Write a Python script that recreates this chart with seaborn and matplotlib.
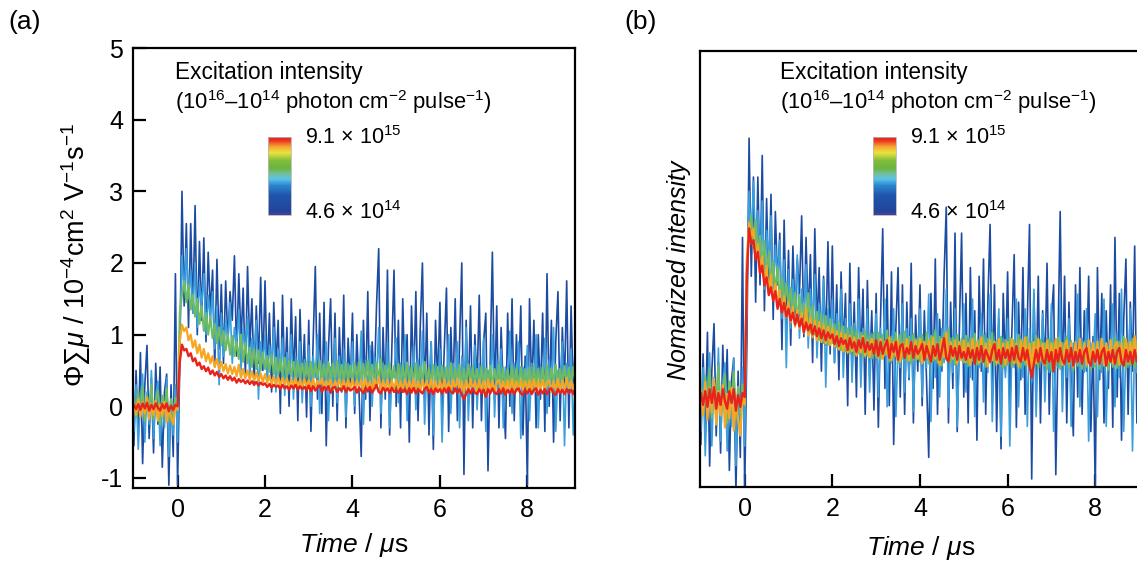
import numpy as np
import pandas as pd
import matplotlib
matplotlib.use("Agg")
import matplotlib.pyplot as plt
import seaborn as sns
from matplotlib.colors import LinearSegmentedColormap, Normalize
from matplotlib.cm import ScalarMappable

# ---------------- data (panel a units) ----------------
time_us = np.round(np.arange(-1.0, 9.1001, 0.05), 2)

dark_blue = [
    -0.55, 0.50, -0.35, 0.75, -0.80, 0.30, 0.85, -0.45, 0.40, -0.65, 0.60, -0.25, 0.55, -0.85, 0.20, 0.45, -1.10, 0.30, -0.70, 1.85,
    -1.10, 0.60, 3.00, 1.40, 2.55, 1.10, 2.55, 1.30, 2.80, 1.00, 2.30, 1.20, 2.35, 0.90, 2.15, 1.30, 1.90, 0.55, 2.05, 0.80,
    1.70, 0.60, 1.75, 0.90, 1.60, 1.20, 2.10, 0.70, 1.85, 0.90, 1.65, 0.40, 1.95, 0.80, 1.50, 0.30, 1.40, 0.60, 1.80, 0.50,
    1.75, 0.40, 1.30, 0.20, 1.45, 0.55, 1.20, -0.10, 1.55, 0.30, 1.10, 0.00, 1.50, 0.40, 1.25, -0.20, 1.35, 0.25, 1.00, -0.15,
    1.20, -0.35, 0.90, 1.95, 0.10, 1.30, -0.10, 1.45, -0.55, 0.80, 1.50, 0.00, 1.30, -0.20, 1.10, 0.20, 1.55, -0.30, 0.95, 0.30,
    1.30, -0.10, 1.00, 0.20, -0.70, 1.20, 0.10, 1.60, -0.20, 0.90, 0.30, 1.40, 2.20, -0.30, 1.10, 0.10, 1.90, -0.40, 0.80, 1.90,
    0.00, 1.20, -0.30, 1.50, 0.20, 1.00, -0.50, 1.40, 0.30, 1.60, -0.20, 1.10, 2.00, 0.10, 1.30, -0.40, 0.90, -0.60, 1.20, 0.30,
    1.45, -0.10, 0.80, 1.65, -0.35, 1.10, 0.20, 1.50, -0.20, 0.90, 2.00, -0.95, 1.20, 0.10, 1.40, -0.30, 1.00, 0.30, 1.55, -0.20,
    0.90, 1.30, -0.90, 0.60, 2.15, 0.10, 1.40, -0.30, 1.10, 0.20, -0.45, 1.30, 0.00, 1.50, -0.20, 1.00, 0.30, 1.40, -0.40, 0.70,
    -1.10, 1.50, 0.20, 1.20, -0.30, 1.00, 0.10, 1.30, -0.35, 1.85, 0.00, 1.20, -0.50, 0.90, 1.60, -0.20, 1.10, 0.30, 1.75, -0.30,
    1.40, 0.20, 0.90,
]

light_blue = [
    -0.35, 0.30, -0.60, 0.10, 0.45, -0.50, 0.20, -0.25, 0.50, -0.45, 0.15, 0.35, -0.55, 0.05, -0.30, 0.40, -0.70, 0.10, -0.40, 0.30,
    -0.50, 1.00, 2.10, 1.60, 2.20, 1.50, 1.90, 1.30, 2.00, 1.10, 1.70, 1.40, 1.85, 1.00, 1.55, 1.20, 1.60, 0.80, 1.40, 0.30,
    1.30, 0.70, 1.20, 0.90, 1.45, 0.60, 1.10, 0.85, 1.35, 0.50, 1.10, 0.75, 1.25, 0.40, 0.95, 0.70, 1.20, 0.10, 0.90, 0.60,
    1.00, 0.35, 0.85, 0.60, 1.10, 0.20, 0.80, 0.50, 0.95, 0.15, 0.75, 0.45, 1.00, 0.10, 0.70, 0.40, 0.90, 0.05, 0.65, 0.50,
    0.85, 0.00, 0.70, 0.40, 1.00, -0.10, 0.60, 0.35, 0.90, -0.20, 0.55, 0.30, 0.95, 0.05, 0.70, 0.20, 0.80, -0.15, 0.60, 0.40,
    0.90, 0.00, 0.55, 0.30, 1.05, -0.25, 0.65, 0.20, 0.85, 0.00, 0.70, 0.35, 1.10, -0.10, 0.60, 0.25, 0.90, -0.30, 0.50, 0.40,
    0.95, 0.05, 0.60, 0.20, 1.00, -0.20, 0.55, 0.30, 0.85, -0.05, 0.65, 0.25, 1.05, -0.25, 0.50, 0.35, 0.90, -0.40, 0.60, 0.20,
    0.80, -0.50, 0.55, 0.30, 1.00, -0.10, 0.60, 0.20, 0.90, -0.30, 0.70, 0.15, 1.10, -0.20, 0.55, 0.35, 0.85, -0.05, 0.60, 0.25,
    0.95, -0.35, 0.50, 0.30, 1.00, -0.15, 0.65, 0.20, 0.80, -0.30, 0.55, 0.35, 1.05, -0.10, 0.60, 0.25, 0.90, -0.45, 0.55, 0.30,
    0.85, -0.20, 0.60, 0.25, 1.00, -0.30, 0.55, 0.35, 0.95, -0.10, 0.65, 0.20, 1.10, -0.35, 0.50, 0.30, 0.90, -0.55, 0.60, 0.25,
    0.80, -0.40, 0.50,
]

green = [
    0.10, -0.15, 0.20, -0.12, 0.28, -0.20, 0.15, -0.08, 0.30, -0.18, 0.08, 0.22, -0.25, 0.15, -0.05, 0.25, -0.20, 0.10, -0.15, 0.12,
    -0.05, 1.30, 1.55, 1.75, 1.45, 1.70, 1.35, 1.55, 1.25, 1.50, 1.15, 1.40, 1.05, 1.30, 1.00, 1.25, 0.95, 1.15, 0.88, 1.10,
    0.85, 1.05, 0.78, 1.00, 0.72, 0.98, 0.70, 0.90, 0.66, 1.00, 0.62, 0.88, 0.60, 0.82, 0.55, 0.80, 0.52, 0.78, 0.50, 0.75,
    0.52, 0.70, 0.48, 0.72, 0.45, 0.68, 0.44, 0.66, 0.42, 0.68, 0.40, 0.64, 0.42, 0.62, 0.38, 0.63, 0.40, 0.60, 0.37, 0.62,
    0.38, 0.62, 0.36, 0.60, 0.40, 0.64, 0.34, 0.58, 0.38, 0.62, 0.33, 0.60, 0.37, 0.63, 0.35, 0.58, 0.32, 0.61, 0.36, 0.57,
    0.34, 0.60, 0.36, 0.62, 0.32, 0.59, 0.35, 0.64, 0.33, 0.58, 0.30, 0.61, 0.36, 0.66, 0.33, 0.57, 0.31, 0.60, 0.35, 0.56,
    0.33, 0.59, 0.30, 0.57, 0.35, 0.61, 0.31, 0.55, 0.34, 0.60, 0.29, 0.56, 0.33, 0.62, 0.30, 0.54, 0.32, 0.58, 0.28, 0.55,
    0.31, 0.57, 0.29, 0.55, 0.33, 0.60, 0.28, 0.54, 0.31, 0.58, 0.27, 0.53, 0.30, 0.59, 0.28, 0.55, 0.32, 0.52, 0.27, 0.56,
    0.25, 0.53, 0.30, 0.57, 0.27, 0.52, 0.31, 0.58, 0.28, 0.54, 0.26, 0.51, 0.30, 0.56, 0.27, 0.53, 0.29, 0.55, 0.26, 0.52,
    0.29, 0.54, 0.27, 0.56, 0.30, 0.52, 0.26, 0.55, 0.29, 0.57, 0.28, 0.53, 0.31, 0.58, 0.27, 0.52, 0.30, 0.56, 0.28, 0.54,
    0.30, 0.55, 0.32,
]

orange = [
    0.05, -0.12, 0.10, -0.15, 0.06, -0.10, 0.12, -0.18, 0.04, -0.12, 0.08, -0.20, 0.02, -0.14, 0.06, -0.22, -0.02, -0.15, -0.25, 0.00,
    -0.05, 0.90, 1.14, 1.05, 1.10, 0.92, 1.00, 0.82, 0.92, 0.74, 0.86, 0.68, 0.80, 0.63, 0.74, 0.60, 0.70, 0.55, 0.66, 0.52,
    0.62, 0.49, 0.59, 0.46, 0.57, 0.45, 0.55, 0.42, 0.58, 0.40, 0.52, 0.39, 0.50, 0.37, 0.49, 0.36, 0.47, 0.35, 0.46, 0.34,
    0.45, 0.33, 0.43, 0.31, 0.42, 0.30, 0.41, 0.29, 0.40, 0.30, 0.39, 0.27, 0.38, 0.29, 0.40, 0.27, 0.37, 0.26, 0.38, 0.28,
    0.37, 0.26, 0.38, 0.25, 0.36, 0.28, 0.39, 0.24, 0.36, 0.27, 0.37, 0.23, 0.35, 0.28, 0.38, 0.24, 0.36, 0.26, 0.37, 0.25,
    0.38, 0.22, 0.36, 0.26, 0.37, 0.23, 0.39, 0.25, 0.35, 0.21, 0.38, 0.26, 0.42, 0.23, 0.36, 0.25, 0.37, 0.22, 0.36, 0.24,
    0.37, 0.23, 0.35, 0.21, 0.38, 0.24, 0.36, 0.22, 0.39, 0.23, 0.35, 0.20, 0.37, 0.24, 0.36, 0.22, 0.38, 0.23, 0.35, 0.21,
    0.36, 0.23, 0.38, 0.22, 0.35, 0.20, 0.37, 0.24, 0.39, 0.21, 0.35, 0.19, 0.36, 0.22, 0.38, 0.24, 0.35, 0.21, 0.37, 0.23,
    0.35, 0.22, 0.38, 0.23, 0.36, 0.21, 0.34, 0.37, 0.22, 0.35, 0.20, 0.36, 0.23, 0.38, 0.22, 0.35, 0.21, 0.37, 0.23, 0.35,
    0.22, 0.36, 0.23, 0.38, 0.21, 0.35, 0.23, 0.37, 0.22, 0.34, 0.36, 0.21, 0.35, 0.23, 0.38, 0.22, 0.36, 0.24, 0.40, 0.25,
    0.35, 0.24, 0.36,
]

red = [
    0.02, -0.04, 0.03, -0.05, 0.04, -0.03, 0.05, -0.06, 0.02, -0.04, 0.04, -0.02, -0.06, 0.03, -0.03, 0.04, -0.07, 0.01, -0.05, 0.02,
    0.00, 0.62, 0.86, 0.78, 0.80, 0.70, 0.74, 0.63, 0.67, 0.57, 0.61, 0.52, 0.56, 0.49, 0.54, 0.45, 0.50, 0.43, 0.48, 0.41,
    0.45, 0.39, 0.43, 0.37, 0.42, 0.36, 0.40, 0.33, 0.38, 0.34, 0.37, 0.32, 0.36, 0.31, 0.35, 0.30, 0.34, 0.29, 0.33, 0.30,
    0.32, 0.27, 0.31, 0.26, 0.30, 0.27, 0.29, 0.24, 0.30, 0.25, 0.28, 0.23, 0.29, 0.25, 0.30, 0.23, 0.28, 0.24, 0.27, 0.22,
    0.29, 0.21, 0.28, 0.22, 0.26, 0.29, 0.20, 0.27, 0.23, 0.28, 0.19, 0.26, 0.27, 0.20, 0.25, 0.22, 0.28, 0.20, 0.26, 0.22,
    0.24, 0.27, 0.19, 0.26, 0.22, 0.18, 0.26, 0.21, 0.27, 0.19, 0.24, 0.30, 0.20, 0.18, 0.26, 0.21, 0.25, 0.19, 0.26, 0.20,
    0.23, 0.19, 0.25, 0.20, 0.24, 0.17, 0.25, 0.19, 0.26, 0.18, 0.24, 0.21, 0.18, 0.24, 0.27, 0.19, 0.24, 0.17, 0.25, 0.20,
    0.24, 0.18, 0.25, 0.19, 0.26, 0.20, 0.18, 0.25, 0.19, 0.24, 0.16, 0.10, 0.17, 0.24, 0.18, 0.25, 0.19, 0.17, 0.24, 0.18,
    0.23, 0.13, 0.24, 0.18, 0.25, 0.19, 0.17, 0.24, 0.18, 0.25, 0.16, 0.23, 0.18, 0.24, 0.17, 0.23, 0.25, 0.18, 0.16, 0.23,
    0.18, 0.24, 0.17, 0.23, 0.25, 0.16, 0.23, 0.18, 0.24, 0.17, 0.23, 0.25, 0.18, 0.16, 0.24, 0.18, 0.23, 0.17, 0.24, 0.18,
    0.23, 0.17, 0.22,
]

series_names = ["dark_blue", "light_blue", "green", "orange", "red"]
series_values = [dark_blue, light_blue, green, orange, red]
# normalisation factors used for panel (b)
norm_factors = [0.44, 0.50, 0.53, 0.78, 1.00]

series_colors = ["#1c4ba2", "#3a9fdc", "#6dbb63", "#f5a623", "#e8231c"]
series_widths = [1.2, 1.2, 1.5, 1.6, 1.7]

for n, v in zip(series_names, series_values):
    if len(v) != len(time_us):
        raise ValueError(f"{n}: {len(v)} vs {len(time_us)}")

rows = []
for name, vals, k in zip(series_names, series_values, norm_factors):
    for t, v in zip(time_us, vals):
        rows.append({"time": t, "value": v, "norm": v * k, "series": name})
df = pd.DataFrame(rows)

# ---------------- style ----------------
sns.set_style("ticks")
plt.rcParams.update({
    "font.family": ["Liberation Sans", "DejaVu Sans"],
    "mathtext.fontset": "custom",
    "mathtext.rm": "Liberation Sans",
    "mathtext.it": "Liberation Sans:italic",
    "mathtext.bf": "Liberation Sans:bold",
    "mathtext.sf": "Liberation Sans",
    "axes.linewidth": 1.6,
    "axes.edgecolor": "black",
    "text.color": "black",
    "axes.labelcolor": "black",
    "xtick.color": "black",
    "ytick.color": "black",
})

W, H = 1137, 566
fig = plt.figure(figsize=(W / 100, H / 100), dpi=100)
axA = fig.add_axes([133 / W, 1 - 488 / H, 442 / W, 440 / H])
axB = fig.add_axes([700 / W, 1 - 487 / H, 443 / W, 436 / H])

for ax, col in [(axA, "value"), (axB, "norm")]:
    for name, c, lw in zip(series_names, series_colors, series_widths):
        sub = df[df["series"] == name]
        sns.lineplot(data=sub, x="time", y=col, ax=ax, color=c, linewidth=lw,
                     errorbar=None, legend=False, sort=False)
    ax.set_xlim(-1.02, 9.09)
    ax.set_xticks([0, 2, 4, 6, 8])
    ax.set_xlabel("")
    ax.set_ylabel("")
    ax.tick_params(direction="in", length=9.5, width=1.6, labelsize=18,
                   pad=7, colors="black", labelcolor="black", top=False, right=False)
    for s in ax.spines.values():
        s.set_visible(True)
        s.set_linewidth(1.6)
        s.set_color("black")

axA.set_ylim(-1.14, 5.0)
axA.set_yticks([-1, 0, 1, 2, 3, 4, 5])
axA.set_yticklabels(["-1", "0", "1", "2", "3", "4", "5"])
axB.set_ylim(-0.459, 1.765)
axB.set_yticks([])

# axis labels
fig.text(354 / W, 1 - 545 / H, r"$\mathit{Time}$ / $\mathit{μ}$s", fontsize=19,
         ha="center", va="center")
fig.text(921 / W, 1 - 548 / H, r"$\mathit{Time}$ / $\mathit{μ}$s", fontsize=19,
         ha="center", va="center")
fig.text(76 / W, 1 - 255 / H,
         r"$\mathit{Φ}$∑$\mathit{μ}$ / 10$^{-4}$cm$^{2}$ V$^{-1}$s$^{-1}$",
         fontsize=19.5, rotation=90, ha="center", va="center")
fig.text(679 / W, 1 - 270 / H, "Nomarized intensity", fontsize=18,
         style="italic", rotation=90, ha="center", va="center")

# panel labels
fig.text(8 / W, 1 - 22 / H, "(a)", fontsize=19, va="center", ha="left")
fig.text(624 / W, 1 - 22 / H, "(b)", fontsize=19, va="center", ha="left")

# legend blocks with colour bar
rainbow = LinearSegmentedColormap.from_list("exc", [
    (0.00, "#4b3e98"), (0.05, "#23449b"), (0.25, "#1f55ab"), (0.38, "#2b86cf"),
    (0.46, "#5ac3ea"), (0.53, "#74bf9a"), (0.60, "#6db33f"), (0.70, "#80bd3b"),
    (0.80, "#ece23a"), (0.88, "#f6a434"), (0.95, "#ec3a22"), (1.00, "#e3201b")])

for text_x, cb_x, lab_x in [(175, 268, 305), (780, 873, 910)]:
    fig.text(text_x / W, 1 - 73 / H, "Excitation intensity", fontsize=16.3,
             ha="left", va="center")
    fig.text(text_x / W, 1 - 102 / H,
             "(10$^{16}$–10$^{14}$ photon cm$^{−2}$ pulse$^{−1}$)",
             fontsize=15.8, ha="left", va="center")
    cax = fig.add_axes([cb_x / W, 1 - 215 / H, 23 / W, 78 / H])
    cb = fig.colorbar(ScalarMappable(norm=Normalize(0, 1), cmap=rainbow), cax=cax)
    cb.set_ticks([])
    cb.outline.set_edgecolor("#b8b8b8")
    cb.outline.set_linewidth(0.6)
    fig.text(lab_x / W, 1 - 138 / H, "9.1 × 10$^{15}$", fontsize=15.5,
             ha="left", va="center")
    fig.text(lab_x / W, 1 - 213 / H, "4.6 × 10$^{14}$", fontsize=15.5,
             ha="left", va="center")

fig.savefig("out.png", dpi=100)
